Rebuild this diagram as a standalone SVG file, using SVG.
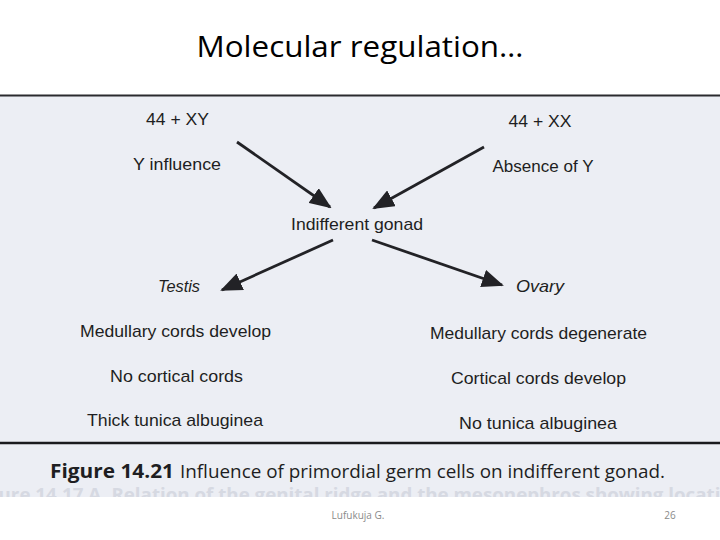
<svg xmlns="http://www.w3.org/2000/svg" width="720" height="540" viewBox="0 0 720 540">
<defs>
<style>
.fig{font-family:"Liberation Sans","DejaVu Sans",sans-serif;font-size:17px;fill:#1e1e22;text-anchor:middle}
.it{font-style:italic}
.con line{stroke:#222226;stroke-width:2.8}
</style>
<marker id="ah" viewBox="0 0 22 18" refX="20" refY="9" markerWidth="22" markerHeight="18" markerUnits="userSpaceOnUse" orient="auto">
<path d="M0,0 L22,9 L0,18 z" fill="#222226"/>
</marker>
<clipPath id="clipScan"><rect x="0" y="95" width="720" height="402"/></clipPath>
</defs>
<rect width="720" height="540" fill="#ffffff"/>
<text x="360" y="57" font-family="'Open Sans','Liberation Sans',sans-serif" font-size="29" fill="#000" text-anchor="middle" textLength="327" lengthAdjust="spacingAndGlyphs">Molecular regulation…</text>
<g id="scan">
<rect x="0" y="95" width="720" height="402" fill="#eceef4"/>
<line x1="0" y1="95.5" x2="720" y2="95.5" stroke="#2a2a2e" stroke-width="1.8"/>
<line x1="0" y1="443" x2="720" y2="443" stroke="#1a1a1e" stroke-width="2.6"/>
<text clip-path="url(#clipScan)" x="-28" y="501" font-family="'Open Sans','Liberation Sans',sans-serif" font-weight="bold" font-size="18" fill="#d6d9e2" textLength="760" lengthAdjust="spacingAndGlyphs">Figure 14.17 A. Relation of the genital ridge and the mesonephros showing locatio</text>
</g>
<g class="con">
<line x1="237" y1="142" x2="330" y2="207" marker-end="url(#ah)"/>
<line x1="484" y1="147" x2="374" y2="208" marker-end="url(#ah)"/>
<line x1="333" y1="240" x2="222" y2="290" marker-end="url(#ah)"/>
<line x1="372" y1="240" x2="502" y2="285" marker-end="url(#ah)"/>
</g>
<g id="n-xy"><text class="fig" x="177.5" y="125" textLength="63" lengthAdjust="spacingAndGlyphs">44 + XY</text></g>
<g id="n-yinf"><text class="fig" x="177" y="170" textLength="88" lengthAdjust="spacingAndGlyphs">Y influence</text></g>
<g id="n-xx"><text class="fig" x="540" y="127" textLength="63" lengthAdjust="spacingAndGlyphs">44 + XX</text></g>
<g id="n-absy"><text class="fig" x="543" y="172" textLength="101" lengthAdjust="spacingAndGlyphs">Absence of Y</text></g>
<g id="n-gonad"><text class="fig" x="357" y="230" textLength="132" lengthAdjust="spacingAndGlyphs">Indifferent gonad</text></g>
<g id="n-testis"><text class="fig it" x="179" y="292" textLength="42" lengthAdjust="spacingAndGlyphs">Testis</text></g>
<g id="n-ovary"><text class="fig it" x="540" y="292" textLength="48" lengthAdjust="spacingAndGlyphs">Ovary</text></g>
<g id="n-testis-list">
<text class="fig" x="175.5" y="337" textLength="191" lengthAdjust="spacingAndGlyphs">Medullary cords develop</text>
<text class="fig" x="176.5" y="382" textLength="133" lengthAdjust="spacingAndGlyphs">No cortical cords</text>
<text class="fig" x="175" y="426" textLength="176" lengthAdjust="spacingAndGlyphs">Thick tunica albuginea</text>
</g>
<g id="n-ovary-list">
<text class="fig" x="538.5" y="339" textLength="217" lengthAdjust="spacingAndGlyphs">Medullary cords degenerate</text>
<text class="fig" x="538.5" y="384" textLength="175" lengthAdjust="spacingAndGlyphs">Cortical cords develop</text>
<text class="fig" x="538" y="429" textLength="158" lengthAdjust="spacingAndGlyphs">No tunica albuginea</text>
</g>
<g id="caption" font-family="'Open Sans','Liberation Sans',sans-serif" font-size="19" fill="#1e1e22">
<text x="50" y="478" font-weight="bold" textLength="124" lengthAdjust="spacingAndGlyphs">Figure 14.21</text>
<text x="180" y="478" textLength="485" lengthAdjust="spacingAndGlyphs">Influence of primordial germ cells on indifferent gonad.</text>
</g>
<g id="footer" font-family="'Open Sans','Liberation Sans',sans-serif" font-size="10" fill="#8a8a8a">
<text x="358" y="519" text-anchor="middle">Lufukuja G.</text>
<text x="670" y="519" text-anchor="middle">26</text>
</g>
</svg>
